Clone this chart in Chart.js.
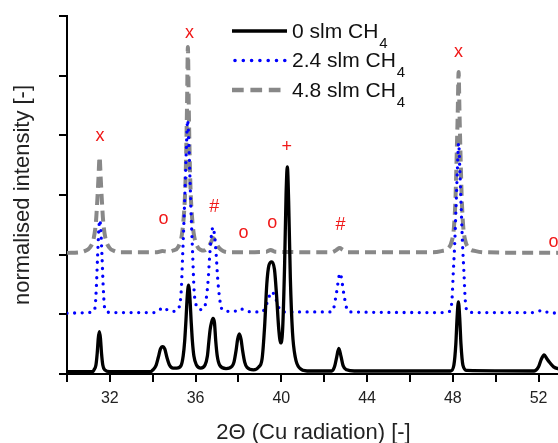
<!DOCTYPE html>
<html lang="en">
<head>
<meta charset="UTF-8">
<title>XRD patterns vs CH4 flow</title>
<script src="https://cdn.jsdelivr.net/npm/chart.js"></script>
<style>
  html, body { margin: 0; padding: 0; background: #fff; overflow: hidden; }
  #wrap { width: 560px; height: 443px; }
</style>
</head>
<body>
<div id="wrap"><canvas id="xrd" width="560" height="443"></canvas></div>
<script>
// 2-theta (deg) and normalised intensity, curves stacked by +1 per CH4 flow
const theta0 = [30.0, 31.2, 31.26, 31.35, 31.41, 31.46, 31.51, 31.56, 31.61, 31.67, 31.76, 32.0,
  33.9, 34.01, 34.16, 34.26, 34.36, 34.46, 34.56, 34.66, 34.78, 34.95, 35.12, 35.32, 35.42, 35.49, 35.55,
  35.61, 35.67, 35.73, 35.79, 35.85, 35.92, 36.04, 36.24, 36.44, 36.55, 36.62, 36.68, 36.74, 36.81, 36.88,
  36.94, 37.01, 37.12, 37.42, 37.7, 37.79, 37.89, 37.96, 38.04, 38.12, 38.19, 38.29, 38.4, 38.7, 38.95,
  39.1, 39.22, 39.32, 39.42, 39.55, 39.68, 39.78, 39.88, 39.97, 40.06, 40.15, 40.22, 40.28, 40.34, 40.42,
  40.52, 40.65, 40.85, 41.2, 42.35, 42.48, 42.58, 42.68, 42.78, 42.88, 43.05, 43.4, 47.9, 48.05, 48.14,
  48.2, 48.26, 48.32, 48.38, 48.47, 48.65, 51.8, 52.0, 52.12, 52.26, 52.38, 52.5, 52.7, 53.0];
const int0 = [0.04, 0.04, 0.07, 0.15, 0.35, 0.6, 0.71, 0.6, 0.35, 0.15, 0.07, 0.04,
  0.04, 0.07, 0.15, 0.28, 0.42, 0.46, 0.42, 0.28, 0.15, 0.1, 0.1, 0.14, 0.3, 0.55, 0.9,
  1.3, 1.49, 1.3, 0.9, 0.55, 0.3, 0.15, 0.1, 0.15, 0.3, 0.55, 0.75, 0.86, 0.93, 0.86,
  0.55, 0.3, 0.15, 0.09, 0.13, 0.2, 0.4, 0.58, 0.67, 0.58, 0.4, 0.2, 0.11, 0.07, 0.12,
  0.25, 0.8, 1.5, 1.82, 1.88, 1.75, 1.3, 0.75, 0.52, 0.75, 1.8, 3.0, 3.47, 2.9, 1.6,
  0.7, 0.28, 0.1, 0.05, 0.05, 0.12, 0.28, 0.43, 0.3, 0.14, 0.07, 0.05, 0.05, 0.15, 0.5,
  0.95, 1.21, 0.95, 0.5, 0.15, 0.06, 0.05, 0.12, 0.24, 0.32, 0.26, 0.2, 0.12, 0.08];

const theta24 = [30.0, 31.0, 31.23, 31.31, 31.37, 31.43, 31.48, 31.53, 31.58, 31.63, 31.69, 31.75, 31.83, 32.1,
  34.1, 34.3, 34.5, 34.7, 35.0, 35.23, 35.33, 35.4, 35.45, 35.51, 35.57, 35.63, 35.69, 35.75, 35.81, 35.86,
  35.93, 36.03, 36.2, 36.4, 36.51, 36.59, 36.66, 36.73, 36.81, 36.89, 36.96, 37.03, 37.11, 37.21, 37.45,
  37.8, 38.07, 38.35, 39.1, 39.32, 39.55, 39.7, 39.9, 40.1, 42.3, 42.44, 42.53, 42.6, 42.67, 42.74, 42.81,
  42.88, 42.95, 43.05, 43.2, 47.6, 47.85, 47.96, 48.02, 48.09, 48.15, 48.21, 48.27, 48.33, 48.39, 48.45,
  48.52, 48.58, 48.69, 49.0, 51.8, 52.2, 52.45, 53.0];
const int24 = [1.02, 1.03, 1.05, 1.12, 1.46, 2.0, 2.4, 2.58, 2.4, 2.0, 1.46, 1.12, 1.05, 1.03,
  1.03, 1.07, 1.12, 1.07, 1.05, 1.12, 1.4, 2.03, 2.5, 3.13, 3.8, 4.26, 3.8, 3.13, 2.5, 2.03,
  1.4, 1.15, 1.08, 1.1, 1.3, 1.6, 2.0, 2.3, 2.46, 2.3, 2.0, 1.6, 1.3, 1.1, 1.05,
  1.05, 1.1, 1.05, 1.04, 1.18, 1.38, 1.3, 1.1, 1.04, 1.04, 1.1, 1.27, 1.42, 1.6, 1.69, 1.6,
  1.42, 1.27, 1.1, 1.04, 1.03, 1.05, 1.24, 1.69, 2.2, 2.8, 3.4, 3.87, 3.4, 2.8, 2.2,
  1.69, 1.24, 1.05, 1.03, 1.03, 1.07, 1.03, 1.02];

const theta48 = [30.0, 30.6, 30.82, 31.07, 31.25, 31.35, 31.42, 31.47, 31.52, 31.57, 31.62, 31.69, 31.79, 31.97,
  32.22, 32.5, 34.2, 34.45, 34.7, 34.95, 35.19, 35.37, 35.46, 35.52, 35.56, 35.6, 35.64, 35.68, 35.72, 35.76,
  35.82, 35.91, 36.09, 36.25, 36.38, 36.58, 36.71, 36.83, 36.95, 37.08, 37.28, 37.6, 39.3, 39.5, 39.7,
  42.37, 42.57, 42.72, 42.87, 43.07, 47.07, 47.47, 47.77, 47.97, 48.05, 48.12, 48.19, 48.23, 48.27, 48.31,
  48.35, 48.42, 48.49, 48.57, 48.77, 49.07, 49.47, 53.0];
const int48 = [2.03, 2.04, 2.06, 2.12, 2.28, 2.55, 2.95, 3.3, 3.64, 3.3, 2.95, 2.55, 2.28, 2.12,
  2.06, 2.04, 2.04, 2.06, 2.05, 2.07, 2.13, 2.36, 2.7, 3.13, 3.7, 4.5, 5.48, 4.5, 3.7, 3.13,
  2.7, 2.36, 2.13, 2.08, 2.07, 2.12, 2.2, 2.28, 2.2, 2.12, 2.06, 2.04, 2.05, 2.08, 2.05,
  2.04, 2.08, 2.11, 2.08, 2.04, 2.04, 2.06, 2.1, 2.25, 2.45, 2.9, 3.8, 4.4, 5.06, 4.4,
  3.8, 2.9, 2.45, 2.25, 2.1, 2.06, 2.04, 2.03];

const seriesNames = ['0 slm CH', '2.4 slm CH', '4.8 slm CH'];
const seriesSub = '4';

// phase markers above the reflections
const markTheta = [31.54, 34.5, 35.71, 36.87, 38.23, 39.57, 40.25, 42.76, 48.27, 52.7];
const markInt = [3.99, 2.6, 5.71, 2.8, 2.36, 2.53, 3.8, 2.5, 5.4, 2.22];
const markText = ['x', 'o', 'x', '#', 'o', 'o', '+', '#', 'x', 'o'];

const xTicks = [30, 32, 34, 36, 38, 40, 42, 44, 46, 48, 50, 52];
const xLabelled = [32, 36, 40, 44, 48, 52];

const FONT = '"Liberation Sans", Arial, sans-serif';

function toPoints(xs, ys) {
  return xs.map((x, i) => ({ x: x, y: ys[i] }));
}

// red phase symbols
const markerPlugin = {
  id: 'phaseMarks',
  afterDatasetsDraw(chart) {
    const ctx = chart.ctx;
    const xs = chart.scales.x, ys = chart.scales.y;
    ctx.save();
    ctx.fillStyle = '#f01818';
    ctx.font = '18px ' + FONT;
    ctx.textAlign = 'center';
    ctx.textBaseline = 'middle';
    markText.forEach((t, i) => {
      ctx.fillText(t, xs.getPixelForValue(markTheta[i]), ys.getPixelForValue(markInt[i]));
    });
    ctx.restore();
  }
};

// legend with CH4 subscript
const legendPlugin = {
  id: 'flowLegend',
  afterDraw(chart) {
    const ctx = chart.ctx;
    const dashes = [[], [0, 8.3], [11.7, 6.7]];
    chart.data.datasets.forEach((ds, i) => {
      const y = 31 + i * 29.5;
      ctx.save();
      ctx.strokeStyle = ds.borderColor;
      ctx.lineWidth = ds.borderWidth + 0.3;
      ctx.lineCap = ds.borderCapStyle || 'butt';
      ctx.setLineDash(dashes[i]);
      ctx.beginPath();
      ctx.moveTo(i === 1 ? 235 : 232, y);
      ctx.lineTo(287, y);
      ctx.stroke();
      ctx.setLineDash([]);
      ctx.fillStyle = '#111';
      ctx.textBaseline = 'alphabetic';
      ctx.font = '21px ' + FONT;
      ctx.fillText(seriesNames[i], 292, y + 6.5);
      const w = ctx.measureText(seriesNames[i]).width;
      ctx.font = '15px ' + FONT;
      ctx.fillText(seriesSub, 292 + w + 1, y + 16.5);
      ctx.restore();
    });
  }
};

new Chart(document.getElementById('xrd'), {
  type: 'line',
  data: {
    datasets: [
      {
        label: seriesNames[0] + seriesSub,
        data: toPoints(theta0, int0),
        borderColor: '#000000',
        borderWidth: 3.3,
        pointRadius: 0,
        cubicInterpolationMode: 'monotone'
      },
      {
        label: seriesNames[1] + seriesSub,
        data: toPoints(theta24, int24),
        borderColor: '#0000ff',
        borderWidth: 3.3,
        borderDash: [0, 7.6],
        borderCapStyle: 'round',
        pointRadius: 0,
        cubicInterpolationMode: 'monotone'
      },
      {
        label: seriesNames[2] + seriesSub,
        data: toPoints(theta48, int48),
        borderColor: '#888888',
        borderWidth: 4,
        borderDash: [11, 6],
        pointRadius: 0,
        cubicInterpolationMode: 'monotone'
      }
    ]
  },
  options: {
    responsive: false,
    animation: false,
    layout: { padding: { top: 16, left: 0, right: 0, bottom: 0 } },
    plugins: {
      legend: { display: false },
      tooltip: { enabled: false }
    },
    scales: {
      x: {
        type: 'linear',
        min: 30,
        max: 53,
        afterBuildTicks: s => { s.ticks = xTicks.map(v => ({ value: v })); },
        afterFit: s => { s.height = 69; },
        ticks: {
          autoSkip: false,
          maxRotation: 0,
          padding: 7,
          color: '#222',
          font: { family: FONT, size: 16 },
          callback: v => xLabelled.includes(v) ? String(v) : ''
        },
        grid: { drawOnChartArea: false, drawTicks: true, tickLength: 8, color: '#000', lineWidth: 2 },
        border: { color: '#000', width: 2 },
        title: {
          display: true,
          text: '2\u0398 (Cu radiation) [-]',
          color: '#222',
          font: { family: FONT, size: 22, lineHeight: 0.9 },
          padding: 0
        }
      },
      y: {
        min: 0,
        max: 6,
        afterFit: s => { s.width = 67; },
        ticks: { display: false, stepSize: 1 },
        grid: { drawOnChartArea: false, drawTicks: true, tickLength: 8, color: '#000', lineWidth: 2 },
        border: { color: '#000', width: 2 },
        title: {
          display: true,
          text: 'normalised intensity [-]',
          color: '#222',
          font: { family: FONT, size: 22 },
          padding: { top: 10, bottom: 0 }
        }
      }
    }
  },
  plugins: [markerPlugin, legendPlugin]
});
</script>
</body>
</html>
